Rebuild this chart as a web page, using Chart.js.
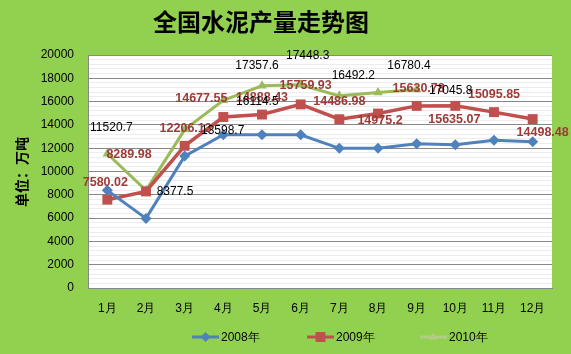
<!DOCTYPE html>
<html>
<head>
<meta charset="utf-8">
<script src="https://cdn.jsdelivr.net/npm/chart.js@4/dist/chart.umd.min.js"></script>
<style>
html,body{margin:0;padding:0;background:#92D050;}
#wrap{width:571px;height:354px;position:relative;}
</style>
</head>
<body>
<div id="wrap"><canvas id="c" width="571" height="354"></canvas></div>
<script>
const titleText = '全国水泥产量走势图';
const yTitle = '单位：万吨';
const months = ['1月','2月','3月','4月','5月','6月','7月','8月','9月','10月','11月','12月'];
const seriesNames = ['2008年','2009年','2010年'];
const s2008 = [8380, 5975, 11320, 13150, 13150, 13150, 11990, 12000, 12390, 12300, 12680, 12560];
const s2009 = [7580.02, 8289.98, 12206.13, 14677.55, 14888.43, 15759.93, 14486.98, 14975.2, 15630.78, 15635.07, 15095.85, 14498.48];
const s2010 = [11520.7, 8377.5, 13598.7, 16114.5, 17357.6, 17448.3, 16492.2, 16780.4, 17045.8];
const yMin = 0, yMax = 20000, yMajor = 2000, yMinor = 400;

// label placement offsets (layout only)
const off2009 = [[-2,-17],[-17,-37],[1,-17],[-22,-18],[0,-17],[5,-19],[0,-18],[2,7],[2,-17],[-1,14],[0,-18],[10,13]];
const off2010 = [[4,-26],[29,1],[38,1],[34,1],[-5,-20],[7,-29],[14,-20],[31,-27],[34,1]];

const C_BLUE = '#4F81BD', C_RED = '#C0504D', C_GREEN = '#9BBB59';

const bgPlugin = {
  id: 'bg',
  beforeDraw(chart) {
    const {ctx, chartArea: a} = chart;
    ctx.save();
    ctx.fillStyle = '#92D050';
    ctx.fillRect(0, 0, chart.width, chart.height);
    ctx.fillStyle = '#FFFFFF';
    ctx.fillRect(a.left, a.top, a.right - a.left, a.bottom - a.top);
    ctx.restore();
  },
  afterDraw(chart) {
    const ctx = chart.ctx;
    ctx.save();
    ctx.fillStyle = '#000';
    ctx.font = 'bold 24px "Noto Sans CJK SC"';
    ctx.textAlign = 'center';
    ctx.textBaseline = 'middle';
    ctx.fillText(titleText, 261, 22);
    ctx.save();
    ctx.translate(22, 172);
    ctx.rotate(-Math.PI / 2);
    ctx.font = 'bold 14px "Noto Sans CJK SC"';
    ctx.fillText(yTitle, 0, 0);
    ctx.restore();
    const items = [
      {x: 192, color: C_BLUE, style: 'rectRot', r: 5, name: seriesNames[0]},
      {x: 307, color: C_RED, style: 'rect', r: 7, name: seriesNames[1]},
      {x: 420, color: '#B3CC85', style: 'triangle', r: 5, name: seriesNames[2]}
    ];
    const ly = 337;
    items.forEach(it => {
      ctx.strokeStyle = it.color;
      ctx.lineWidth = 3;
      ctx.beginPath();
      ctx.moveTo(it.x, ly);
      ctx.lineTo(it.x + 27, ly);
      ctx.stroke();
      ctx.fillStyle = it.color;
      Chart.helpers.drawPoint(ctx, {pointStyle: it.style, radius: it.r, borderWidth: 0}, it.x + 13.5, ly);
      ctx.fillStyle = '#000';
      ctx.font = '12px "Liberation Sans"';
      ctx.textAlign = 'left';
      ctx.textBaseline = 'middle';
      ctx.fillText(it.name, it.x + 29, ly + 1);
    });
    ctx.restore();
  },
  afterDatasetsDraw(chart) {
    const ctx = chart.ctx;
    ctx.save();
    ctx.textAlign = 'center';
    ctx.textBaseline = 'middle';
    const m1 = chart.getDatasetMeta(1);
    ctx.font = 'bold 12.5px "Liberation Sans"';
    ctx.fillStyle = '#9B3B38';
    s2009.forEach((v, i) => {
      const p = m1.data[i];
      ctx.fillText(String(v), p.x + off2009[i][0], p.y + off2009[i][1]);
    });
    const m2 = chart.getDatasetMeta(2);
    ctx.font = '12px "Liberation Sans"';
    ctx.fillStyle = '#000';
    s2010.forEach((v, i) => {
      const p = m2.data[i];
      ctx.fillText(String(v), p.x + off2010[i][0], p.y + off2010[i][1]);
    });
    ctx.restore();
  }
};

new Chart(document.getElementById('c'), {
  type: 'line',
  data: {
    labels: months,
    datasets: [
      {label: seriesNames[0], data: s2008, borderColor: C_BLUE, backgroundColor: C_BLUE, borderWidth: 3,
       pointStyle: 'rectRot', pointRadius: 5.5, pointBorderWidth: 0, tension: 0},
      {label: seriesNames[1], data: s2009, borderColor: C_RED, backgroundColor: C_RED, borderWidth: 3.5,
       pointStyle: 'rect', pointRadius: 7, pointBorderWidth: 0, tension: 0},
      {label: seriesNames[2], data: s2010, borderColor: C_GREEN, backgroundColor: C_GREEN, borderWidth: 3,
       pointStyle: 'triangle', pointRadius: 5.5, pointBorderWidth: 0, tension: 0}
    ]
  },
  options: {
    responsive: false,
    animation: false,
    layout: {padding: {top: 55, right: 19, bottom: 0, left: 0}},
    plugins: {legend: {display: false}, title: {display: false}, tooltip: {enabled: false}},
    scales: {
      x: {
        offset: true,
        grid: {display: false, drawTicks: false, offset: true},
        border: {display: true, color: '#878787', width: 1},
        ticks: {color: '#000', font: {family: 'Liberation Sans', size: 12}, padding: 13, maxRotation: 0, autoSkip: false},
        afterFit(s) { s.height = 66; }
      },
      y: {
        min: yMin, max: yMax,
        grid: {
          drawTicks: false,
          color: ctx => (ctx.tick && ctx.tick.value % yMajor === 0) ? '#878787' : '#ECECEC',
          lineWidth: 1
        },
        border: {display: true, color: '#878787', width: 1},
        ticks: {
          stepSize: yMinor, maxTicksLimit: 100, autoSkip: false, padding: 14, color: '#000',
          font: {family: 'Liberation Sans', size: 12},
          callback: v => (v % yMajor === 0 ? String(v) : '')
        },
        afterFit(s) { s.width = 88; }
      }
    }
  },
  plugins: [bgPlugin]
});
</script>
</body>
</html>
